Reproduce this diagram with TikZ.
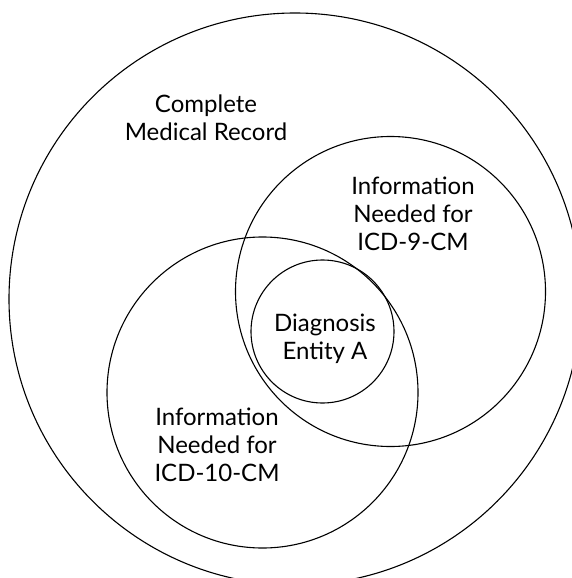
\documentclass[tikz,border=0pt]{standalone}
\usepackage{fontspec}
\setmainfont{Lato}
\begin{document}
\begin{tikzpicture}[x=1pt,y=-1pt,
  ring/.style={draw=black,line width=1.1pt,circle,inner sep=0pt,minimum size=#1},
  lbl/.style={align=center,anchor=base,font=\fontsize{24}{27.6}\selectfont}]
\useasboundingbox (0,0) rectangle (571,578);
\node[ring=572pt] (rec) at (295,299) {};
\node[ring=310pt] (icd9) at (390.5,291.5) {};
\node[ring=311pt] (icd10) at (262.5,392.5) {};
\node[ring=143pt] (diag) at (322.5,331.5) {};
\node[lbl] (trec) at (206,140) {Complete\\Medical Record};
\node[lbl] (t9) at (413,250) {Information\\Needed for\\ICD-9-CM};
\node[lbl] (tdiag) at (325,359) {Diagnosis\\Entity A};
\node[lbl] (t10) at (217,481) {Information\\Needed for\\ICD-10-CM};
\end{tikzpicture}
\end{document}
